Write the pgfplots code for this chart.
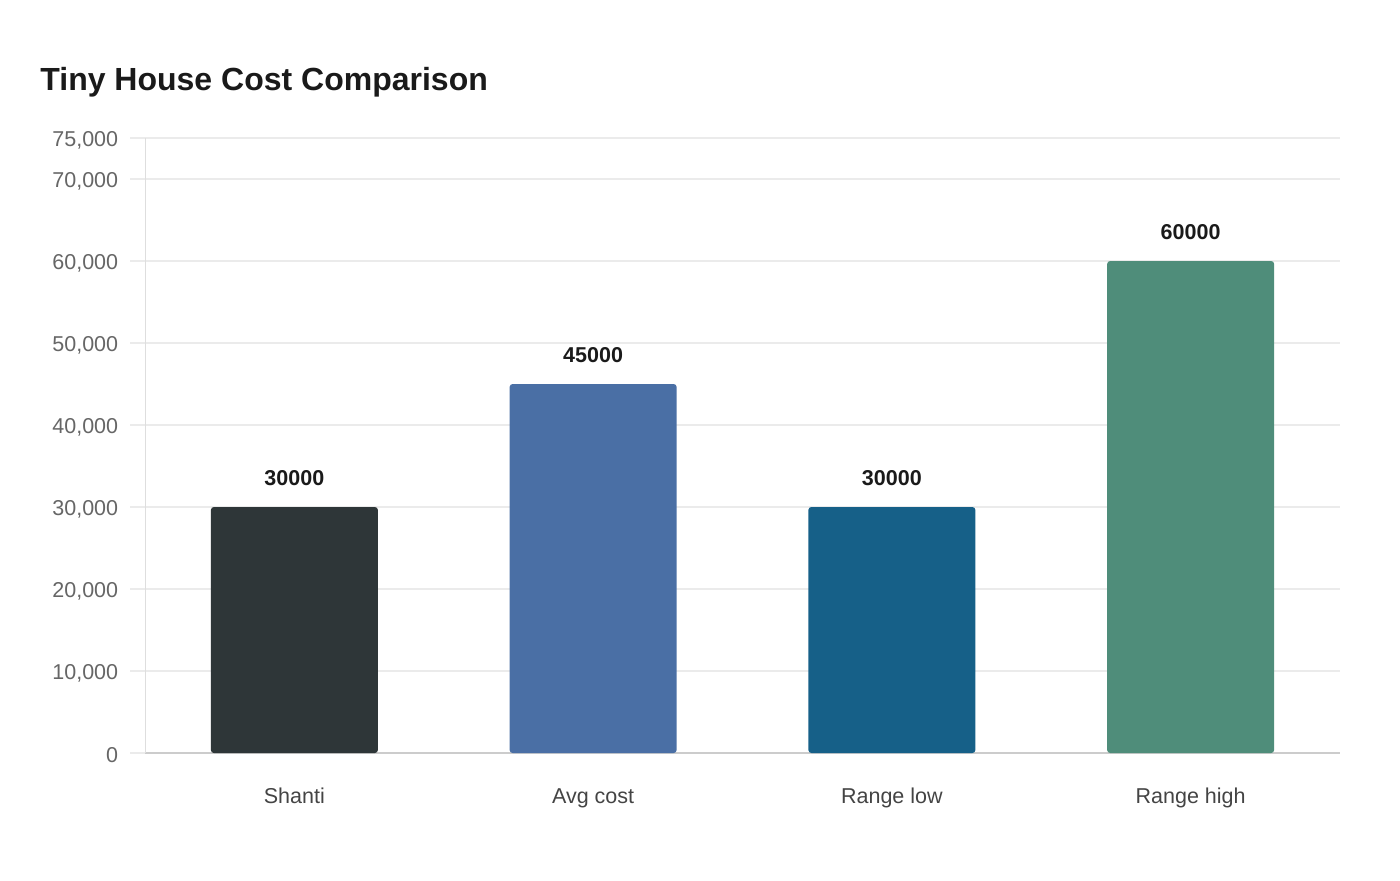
\documentclass[border=0pt]{standalone}
\usepackage{pgfplots}
\pgfplotsset{compat=1.18}
\usepackage{fontspec}
\setmainfont{Liberation Sans}

\definecolor{cShanti}{HTML}{2E3638}
\definecolor{cAvg}{HTML}{4A6FA5}
\definecolor{cLow}{HTML}{166088}
\definecolor{cHigh}{HTML}{4F8D7A}
\definecolor{gridgray}{HTML}{EBEBEB}
\definecolor{ticktext}{HTML}{666666}
\definecolor{cattext}{HTML}{444444}
\definecolor{titletext}{HTML}{1A1A1A}

\begin{document}
\begin{tikzpicture}
% page: 1px = 0.5pt
\path[use as bounding box] (0,0) rectangle (700pt,440pt);

\node[anchor=west, font=\bfseries\fontsize{16}{19}\selectfont, text=titletext, inner sep=0pt]
  at (20pt,399pt) {Tiny House Cost Comparison};

\begin{axis}[
    at={(72.5pt,63.5pt)}, anchor=south west,
    scale only axis,
    width=597.5pt, height=307.5pt,
    xmin=-0.5, xmax=3.5,
    ymin=0, ymax=75000,
    axis lines*=left,
    x axis line style={draw=black!20, line width=1pt},
    y axis line style={draw=black!13, line width=0.5pt},
    xtick={0,1,2,3},
    xticklabels={Shanti, Avg cost, Range low, Range high},
    x tick style={draw=none},
    x tick label style={font=\fontsize{10.75}{13}\selectfont, text=cattext, anchor=base, yshift=-17.5pt},
    ytick={0,10000,20000,30000,40000,50000,60000,70000,75000},
    scaled y ticks=false,
    yticklabel style={font=\fontsize{10.75}{13}\selectfont, text=ticktext, xshift=-2.4pt, yshift=-1pt},
    /pgf/number format/.cd, 1000 sep={,}, assume math mode=true,
    /pgfplots/.cd,
    tick align=outside,
    major tick length=7.5pt,
    y tick style={draw=gridgray, line width=1pt},
    ymajorgrids=true,
    grid style={draw=gridgray, line width=1pt},
    ybar, bar shift=0pt, bar width=83.5pt,
    nodes near coords={\pgfmathprintnumber[fixed, 1000 sep={}]{\pgfplotspointmeta}},
    nodes near coords style={font=\bfseries\fontsize{10.75}{13}\selectfont, text=titletext, anchor=center, yshift=14.5pt},
    clip=false,
]
\addplot[fill=cShanti, draw=none, rounded corners=1.5pt] coordinates {(0,30000)};
\addplot[fill=cAvg, draw=none, rounded corners=1.5pt] coordinates {(1,45000)};
\addplot[fill=cLow, draw=none, rounded corners=1.5pt] coordinates {(2,30000)};
\addplot[fill=cHigh, draw=none, rounded corners=1.5pt] coordinates {(3,60000)};
\end{axis}
\end{tikzpicture}
\end{document}
